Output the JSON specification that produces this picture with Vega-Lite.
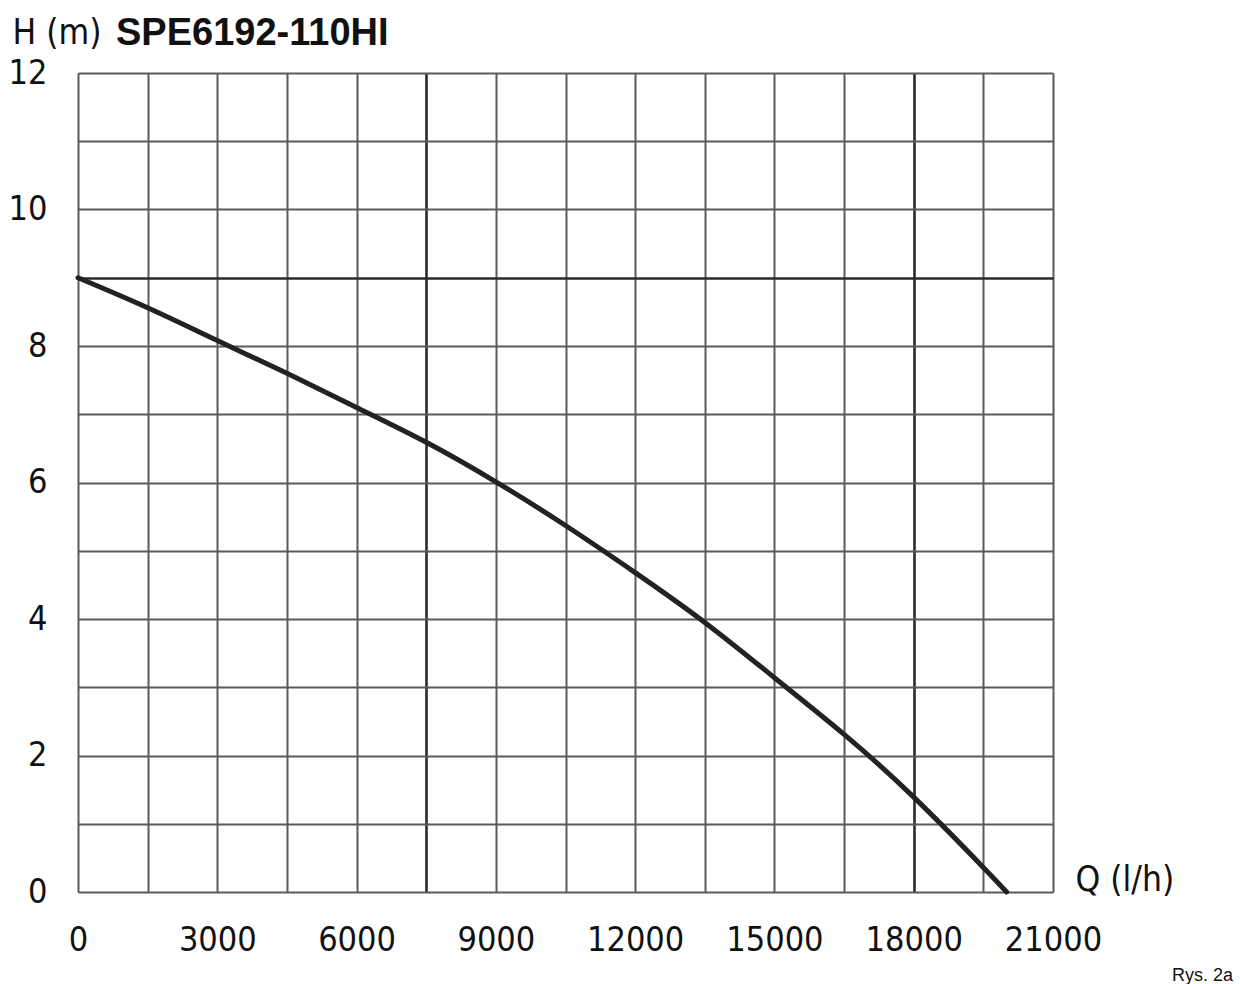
{
  "$schema": "https://vega.github.io/schema/vega-lite/v6.json",
  "width": 975,
  "height": 819,
  "autosize": {"type": "none"},
  "padding": {"left": 78, "top": 73, "right": 187, "bottom": 92},
  "background": "white",
  "config": {
    "view": {"stroke": null},
    "axis": {
      "labelFont": "DejaVu Sans Condensed",
      "titleFont": "DejaVu Sans Condensed",
      "labelFontSize": 34,
      "titleFontSize": 35,
      "labelColor": "#111",
      "titleColor": "#111",
      "titleFontWeight": "normal",
      "domain": false,
      "ticks": false,
      "grid": true,
      "gridOpacity": 1
    }
  },
  "layer": [
    {
      "data": {
        "values": [
          {"Q": 0, "H": 9.0},
          {"Q": 1500, "H": 8.56},
          {"Q": 3000, "H": 8.08},
          {"Q": 4500, "H": 7.6},
          {"Q": 6000, "H": 7.1},
          {"Q": 7500, "H": 6.59},
          {"Q": 9000, "H": 6.01},
          {"Q": 10500, "H": 5.37},
          {"Q": 12000, "H": 4.68},
          {"Q": 13500, "H": 3.95},
          {"Q": 15000, "H": 3.14},
          {"Q": 16500, "H": 2.31},
          {"Q": 18000, "H": 1.39},
          {"Q": 19500, "H": 0.36},
          {"Q": 20000, "H": 0.0}
        ]
      },
      "mark": {"type": "line", "interpolate": "natural", "color": "#222", "strokeWidth": 5, "strokeCap": "round"},
      "encoding": {
        "x": {
          "field": "Q",
          "type": "quantitative",
          "scale": {"domain": [0, 21000], "nice": false, "zero": true},
          "axis": {
            "values": [0, 1500, 3000, 4500, 6000, 7500, 9000, 10500, 12000, 13500, 15000, 16500, 18000, 19500, 21000],
            "labelExpr": "datum.value % 3000 == 0 ? format(datum.value, 'd') : ''",
            "labelPadding": 31,
            "labelFlush": false,
            "labelOverlap": false,
            "gridColor": {"condition": {"test": "datum.value == 7500 || datum.value == 18000", "value": "#2a2a2a"}, "value": "#5a5a5a"},
            "gridWidth": {"condition": {"test": "datum.value == 7500 || datum.value == 18000", "value": 2.6}, "value": 2},
            "title": "Q (l/h)",
            "titleAlign": "left",
            "titleBaseline": "alphabetic",
            "titleX": 997,
            "titleY": -2
          }
        },
        "y": {
          "field": "H",
          "type": "quantitative",
          "scale": {"domain": [0, 12], "nice": false},
          "axis": {
            "values": [0, 1, 2, 3, 4, 5, 6, 7, 8, 9, 10, 11, 12],
            "labelExpr": "datum.value % 2 == 0 ? format(datum.value, 'd') : ''",
            "labelPadding": 31,
            "labelFlush": false,
            "labelOverlap": false,
            "gridColor": {"condition": {"test": "datum.value == 9", "value": "#2a2a2a"}, "value": "#5a5a5a"},
            "gridWidth": {"condition": {"test": "datum.value == 9", "value": 2.6}, "value": 2},
            "title": "H (m)",
            "titleAngle": 0,
            "titleAlign": "left",
            "titleBaseline": "alphabetic",
            "titleX": -66,
            "titleY": -30
          }
        }
      }
    },
    {
      "data": {"values": [{"Q": 0, "H": 12, "note": "SPE6192-110HI"}]},
      "mark": {"type": "text", "align": "left", "baseline": "alphabetic", "dx": 38, "dy": -28, "font": "Liberation Sans", "fontWeight": "bold", "fontSize": 38, "color": "#111"},
      "encoding": {
        "x": {"field": "Q", "type": "quantitative"},
        "y": {"field": "H", "type": "quantitative"},
        "text": {"field": "note"}
      }
    },
    {
      "data": {"values": [{"Q": 21000, "H": 0, "note": "Rys. 2a"}]},
      "mark": {"type": "text", "align": "right", "baseline": "alphabetic", "dx": 180, "dy": 89, "font": "Liberation Sans", "fontSize": 18, "color": "#111"},
      "encoding": {
        "x": {"field": "Q", "type": "quantitative"},
        "y": {"field": "H", "type": "quantitative"},
        "text": {"field": "note"}
      }
    }
  ]
}
